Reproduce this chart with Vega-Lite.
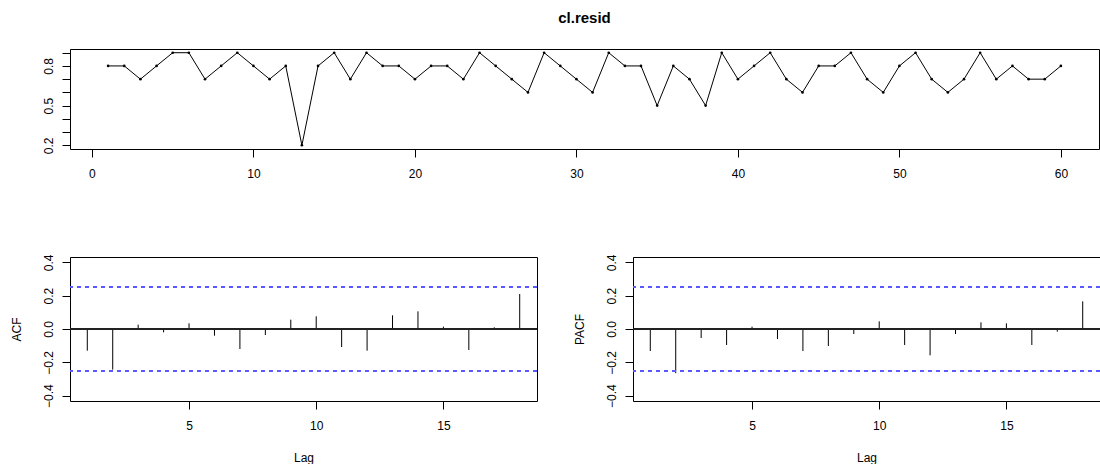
{
  "$schema": "https://vega.github.io/schema/vega-lite/v6.json",
  "padding": {"left": 9, "top": 10, "right": 0, "bottom": 0},
  "bounds": "flush",
  "spacing": 108,
  "config": {
    "view": {"stroke": "#000", "strokeWidth": 1},
    "font": "Liberation Sans",
    "axis": {
      "domain": false, "grid": false, "tickColor": "#000", "tickSize": 8, "tickWidth": 1, "labelOverlap": false, "labelFlush": false,
      "labelFont": "Liberation Sans", "labelFontSize": 12, "labelColor": "#000",
      "titleFont": "Liberation Sans", "titleFontSize": 12, "titleFontWeight": "normal", "titleColor": "#000"
    },
    "axisX": {"labelPadding": 11},
    "axisY": {"labelAngle": 270, "labelAlign": "center", "labelBaseline": "bottom", "labelPadding": 7, "titlePadding": 19}
  },
  "datasets": {
    "ts": [
      {"t": 1, "v": 0.8}, {"t": 2, "v": 0.8}, {"t": 3, "v": 0.7}, {"t": 4, "v": 0.8}, {"t": 5, "v": 0.9},
      {"t": 6, "v": 0.9}, {"t": 7, "v": 0.7}, {"t": 8, "v": 0.8}, {"t": 9, "v": 0.9}, {"t": 10, "v": 0.8},
      {"t": 11, "v": 0.7}, {"t": 12, "v": 0.8}, {"t": 13, "v": 0.2}, {"t": 14, "v": 0.8}, {"t": 15, "v": 0.9},
      {"t": 16, "v": 0.7}, {"t": 17, "v": 0.9}, {"t": 18, "v": 0.8}, {"t": 19, "v": 0.8}, {"t": 20, "v": 0.7},
      {"t": 21, "v": 0.8}, {"t": 22, "v": 0.8}, {"t": 23, "v": 0.7}, {"t": 24, "v": 0.9}, {"t": 25, "v": 0.8},
      {"t": 26, "v": 0.7}, {"t": 27, "v": 0.6}, {"t": 28, "v": 0.9}, {"t": 29, "v": 0.8}, {"t": 30, "v": 0.7},
      {"t": 31, "v": 0.6}, {"t": 32, "v": 0.9}, {"t": 33, "v": 0.8}, {"t": 34, "v": 0.8}, {"t": 35, "v": 0.5},
      {"t": 36, "v": 0.8}, {"t": 37, "v": 0.7}, {"t": 38, "v": 0.5}, {"t": 39, "v": 0.9}, {"t": 40, "v": 0.7},
      {"t": 41, "v": 0.8}, {"t": 42, "v": 0.9}, {"t": 43, "v": 0.7}, {"t": 44, "v": 0.6}, {"t": 45, "v": 0.8},
      {"t": 46, "v": 0.8}, {"t": 47, "v": 0.9}, {"t": 48, "v": 0.7}, {"t": 49, "v": 0.6}, {"t": 50, "v": 0.8},
      {"t": 51, "v": 0.9}, {"t": 52, "v": 0.7}, {"t": 53, "v": 0.6}, {"t": 54, "v": 0.7}, {"t": 55, "v": 0.9},
      {"t": 56, "v": 0.7}, {"t": 57, "v": 0.8}, {"t": 58, "v": 0.7}, {"t": 59, "v": 0.7}, {"t": 60, "v": 0.8}
    ],
    "cf": [
      {"lag": 1, "acf": -0.13, "pacf": -0.132},
      {"lag": 2, "acf": -0.244, "pacf": -0.265},
      {"lag": 3, "acf": 0.026, "pacf": -0.054},
      {"lag": 4, "acf": -0.02, "pacf": -0.096},
      {"lag": 5, "acf": 0.034, "pacf": 0.014},
      {"lag": 6, "acf": -0.04, "pacf": -0.06},
      {"lag": 7, "acf": -0.12, "pacf": -0.132},
      {"lag": 8, "acf": -0.036, "pacf": -0.102},
      {"lag": 9, "acf": 0.056, "pacf": -0.03},
      {"lag": 10, "acf": 0.076, "pacf": 0.046},
      {"lag": 11, "acf": -0.108, "pacf": -0.096},
      {"lag": 12, "acf": -0.13, "pacf": -0.158},
      {"lag": 13, "acf": 0.082, "pacf": -0.03},
      {"lag": 14, "acf": 0.106, "pacf": 0.04},
      {"lag": 15, "acf": 0.014, "pacf": 0.034},
      {"lag": 16, "acf": -0.126, "pacf": -0.096},
      {"lag": 17, "acf": 0.01, "pacf": -0.016},
      {"lag": 18, "acf": 0.21, "pacf": 0.166}
    ]
  },
  "vconcat": [
    {
      "width": 1029,
      "height": 100,
      "title": {"text": "cl.resid", "font": "Liberation Sans", "fontSize": 15, "fontWeight": "bold", "color": "#000", "anchor": "middle", "offset": 23},
      "data": {"name": "ts"},
      "encoding": {
        "x": {"field": "t", "type": "quantitative", "scale": {"domain": [-1.36, 62.36], "nice": false, "zero": false},
              "axis": {"title": null, "values": [0, 10, 20, 30, 40, 50, 60], "labelOverlap": false}},
        "y": {"field": "v", "type": "quantitative", "scale": {"domain": [0.172, 0.928], "nice": false, "zero": false},
              "axis": {"title": null, "values": [0.2, 0.3, 0.4, 0.5, 0.6, 0.7, 0.8, 0.9], "labelOverlap": false,
                       "labelExpr": "(datum.value > 0.19 && datum.value < 0.21) || (datum.value > 0.49 && datum.value < 0.51) || (datum.value > 0.79 && datum.value < 0.81) ? format(datum.value, '.1f') : ''"}}
      },
      "layer": [
        {"mark": {"type": "line", "color": "#000", "strokeWidth": 1}},
        {"mark": {"type": "point", "filled": true, "size": 7, "color": "#000", "opacity": 1}}
      ]
    },
    {
      "hconcat": [
        {
          "width": 467,
          "height": 144,
          "data": {"name": "cf"},
          "layer": [
            {
              "mark": {"type": "rule", "color": "#000", "strokeWidth": 1},
              "encoding": {
                "x": {"field": "lag", "type": "quantitative", "scale": {"domain": [0.32, 18.68], "nice": false, "zero": false},
                      "axis": {"title": "Lag", "values": [5, 10, 15], "titlePadding": 21, "labelOverlap": false}},
                "y": {"field": "acf", "type": "quantitative", "scale": {"domain": [-0.432, 0.432], "nice": false, "zero": false},
                      "axis": {"title": "ACF", "values": [-0.4, -0.2, 0, 0.2, 0.4], "format": ".1f", "labelOverlap": false}},
                "y2": {"datum": 0}
              }
            },
            {"mark": {"type": "rule", "color": "#222", "strokeWidth": 1}, "encoding": {"y": {"datum": 0, "type": "quantitative", "axis": {"title": "ACF", "values": [-0.4, -0.2, 0, 0.2, 0.4], "format": ".1f", "labelOverlap": false}}}},
            {"mark": {"type": "rule", "color": "#5a5aff", "strokeWidth": 1, "strokeDash": [4, 4]}, "encoding": {"y": {"datum": 0.253, "type": "quantitative", "axis": {"title": "ACF", "values": [-0.4, -0.2, 0, 0.2, 0.4], "format": ".1f", "labelOverlap": false}}}},
            {"mark": {"type": "rule", "color": "#5a5aff", "strokeWidth": 1, "strokeDash": [4, 4]}, "encoding": {"y": {"datum": -0.253, "type": "quantitative", "axis": {"title": "ACF", "values": [-0.4, -0.2, 0, 0.2, 0.4], "format": ".1f", "labelOverlap": false}}}}
          ]
        },
        {
          "width": 467,
          "height": 144,
          "data": {"name": "cf"},
          "layer": [
            {
              "mark": {"type": "rule", "color": "#000", "strokeWidth": 1},
              "encoding": {
                "x": {"field": "lag", "type": "quantitative", "scale": {"domain": [0.32, 18.68], "nice": false, "zero": false},
                      "axis": {"title": "Lag", "values": [5, 10, 15], "titlePadding": 21, "labelOverlap": false}},
                "y": {"field": "pacf", "type": "quantitative", "scale": {"domain": [-0.432, 0.432], "nice": false, "zero": false},
                      "axis": {"title": "PACF", "values": [-0.4, -0.2, 0, 0.2, 0.4], "format": ".1f", "labelOverlap": false}},
                "y2": {"datum": 0}
              }
            },
            {"mark": {"type": "rule", "color": "#222", "strokeWidth": 1}, "encoding": {"y": {"datum": 0, "type": "quantitative", "axis": {"title": "PACF", "values": [-0.4, -0.2, 0, 0.2, 0.4], "format": ".1f", "labelOverlap": false}}}},
            {"mark": {"type": "rule", "color": "#5a5aff", "strokeWidth": 1, "strokeDash": [4, 4]}, "encoding": {"y": {"datum": 0.253, "type": "quantitative", "axis": {"title": "PACF", "values": [-0.4, -0.2, 0, 0.2, 0.4], "format": ".1f", "labelOverlap": false}}}},
            {"mark": {"type": "rule", "color": "#5a5aff", "strokeWidth": 1, "strokeDash": [4, 4]}, "encoding": {"y": {"datum": -0.253, "type": "quantitative", "axis": {"title": "PACF", "values": [-0.4, -0.2, 0, 0.2, 0.4], "format": ".1f", "labelOverlap": false}}}}
          ]
        }
      ],
      "spacing": 96,
      "bounds": "flush"
    }
  ]
}
